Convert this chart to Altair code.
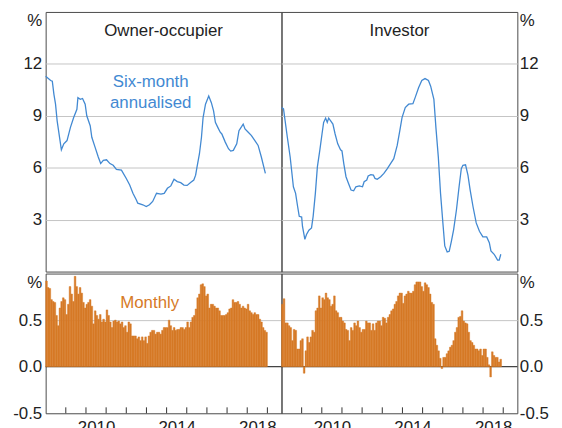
import altair as alt
import pandas as pd

FONT = "Liberation Sans"
BLUE = "#4289D2"
ORANGE = "#D67A27"
X_DOMAIN = [2008, 2019.7]
START_YEAR = 2008

# ---- data ----
owner_line_dates = [2008.00, 2008.25, 2008.33, 2008.41, 2008.49, 2008.57, 2008.78, 2008.90, 2009.06, 2009.23,
                    2009.39, 2009.55, 2009.60, 2009.72, 2009.83, 2009.96, 2010.04, 2010.21, 2010.29, 2010.45,
                    2010.61, 2010.73, 2010.86, 2011.02, 2011.19, 2011.35, 2011.51, 2011.76, 2012.00, 2012.17,
                    2012.33, 2012.50, 2012.57, 2012.82, 2012.99, 2013.15, 2013.31, 2013.50, 2013.72, 2013.88,
                    2014.04, 2014.21, 2014.37, 2014.53, 2014.70, 2014.86, 2015.02, 2015.19, 2015.35, 2015.44,
                    2015.51, 2015.63, 2015.73, 2015.81, 2015.93, 2016.09, 2016.22, 2016.33, 2016.42, 2016.54,
                    2016.66, 2016.74, 2016.91, 2017.07, 2017.18, 2017.31, 2017.48, 2017.59, 2017.72, 2017.80,
                    2017.89, 2018.05, 2018.21, 2018.38, 2018.54, 2018.70, 2018.90]
owner_line_values = [11.29, 11.04, 11.0, 10.24, 9.67, 8.71, 7.04, 7.38, 7.57, 8.33,
                     8.9, 9.38, 10.05, 9.95, 10.0, 9.67, 9.0, 8.43, 7.76, 7.19,
                     6.62, 6.24, 6.43, 6.46, 6.24, 6.14, 5.9, 5.86, 5.38, 5.0,
                     4.52, 4.14, 3.95, 3.86, 3.76, 3.86, 4.05, 4.52, 4.47, 4.52,
                     4.81, 4.95, 5.33, 5.2, 5.14, 5.0, 4.98, 5.14, 5.29, 5.57,
                     6.05, 6.81, 7.76, 8.9, 9.67, 10.14, 9.76, 9.29, 8.62, 8.33,
                     8.05, 7.95, 7.48, 7.1, 6.96, 7.0, 7.38, 8.14, 8.37, 8.52,
                     8.24, 8.05, 7.86, 7.57, 7.29, 6.62, 5.67]

investor_line_dates = [2008.01, 2008.10, 2008.18, 2008.29, 2008.43, 2008.59, 2008.70, 2008.80, 2008.88, 2009.00,
                       2009.04, 2009.16, 2009.24, 2009.36, 2009.49, 2009.57, 2009.68, 2009.78, 2009.90, 2010.01,
                       2010.09, 2010.19, 2010.27, 2010.34, 2010.44, 2010.55, 2010.66, 2010.79, 2010.93, 2011.00,
                       2011.09, 2011.20, 2011.32, 2011.45, 2011.58, 2011.69, 2011.86, 2012.02, 2012.10, 2012.23,
                       2012.30, 2012.43, 2012.56, 2012.64, 2012.75, 2012.92, 2013.08, 2013.25, 2013.41, 2013.57,
                       2013.74, 2013.87, 2013.98, 2014.14, 2014.31, 2014.52, 2014.63, 2014.80, 2014.96, 2015.12,
                       2015.29, 2015.40, 2015.56, 2015.66, 2015.78, 2015.89, 2016.02, 2016.10, 2016.22, 2016.32,
                       2016.43, 2016.54, 2016.68, 2016.81, 2016.92, 2017.00, 2017.13, 2017.25, 2017.36, 2017.50,
                       2017.66, 2017.82, 2017.99, 2018.18, 2018.31, 2018.39, 2018.55, 2018.72, 2018.80, 2018.88]
investor_line_values = [9.48, 9.4, 8.71, 7.76, 6.62, 4.9, 4.52, 3.76, 3.19, 3.15,
                        2.62, 1.86, 2.14, 2.39, 2.52, 3.19, 4.52, 6.05, 7.0, 7.95,
                        8.62, 8.87, 8.62, 8.87, 8.71, 8.52, 7.95, 7.38, 7.04, 6.97,
                        6.24, 5.48, 5.1, 4.71, 4.67, 4.9, 4.95, 4.9, 5.19, 5.29,
                        5.52, 5.6, 5.57, 5.38, 5.33, 5.48, 5.67, 5.95, 6.24, 6.52,
                        7.29, 8.14, 8.9, 9.48, 9.67, 9.7, 10.05, 10.62, 11.04, 11.15,
                        11.04, 10.71, 9.95, 8.33, 6.62, 4.52, 2.62, 1.48, 1.13, 1.17,
                        1.76, 2.43, 3.57, 4.9, 5.95, 6.14, 6.17, 5.57, 4.71, 3.76,
                        2.81, 2.33, 2.01, 2.0, 1.67, 1.19, 1.0, 0.66, 0.66, 1.0]

owner_monthly = [0.92, 0.85, 0.84, 0.72, 0.70, 0.69, 0.55, 0.44, 0.63, 0.70,
                 0.74, 0.72, 0.56, 0.67, 0.86, 0.78, 0.70, 0.97, 0.86, 0.78,
                 0.85, 0.79, 0.69, 0.63, 0.67, 0.69, 0.72, 0.65, 0.46, 0.60,
                 0.55, 0.51, 0.56, 0.48, 0.51, 0.48, 0.61, 0.55, 0.48, 0.42,
                 0.49, 0.50, 0.48, 0.49, 0.46, 0.48, 0.42, 0.44, 0.37, 0.48,
                 0.46, 0.33, 0.33, 0.33, 0.30, 0.32, 0.28, 0.32, 0.28, 0.32,
                 0.25, 0.33, 0.37, 0.39, 0.39, 0.35, 0.37, 0.37, 0.35, 0.39,
                 0.42, 0.42, 0.42, 0.50, 0.44, 0.39, 0.42, 0.39, 0.40, 0.40,
                 0.42, 0.42, 0.40, 0.42, 0.48, 0.42, 0.48, 0.53, 0.55, 0.62,
                 0.74, 0.78, 0.88, 0.89, 0.86, 0.76, 0.78, 0.63, 0.67, 0.67,
                 0.65, 0.63, 0.63, 0.60, 0.55, 0.55, 0.55, 0.56, 0.58, 0.62,
                 0.63, 0.72, 0.69, 0.69, 0.70, 0.67, 0.63, 0.65, 0.63, 0.62,
                 0.67, 0.60, 0.58, 0.56, 0.58, 0.56, 0.56, 0.51, 0.48, 0.42,
                 0.39, 0.37]

investor_monthly = [0.67, 0.73, 0.47, 0.47, 0.44, 0.42, 0.28, 0.40, 0.39, 0.19,
                    0.19, 0.28, 0.30, -0.07, 0.17, 0.32, 0.26, 0.32, 0.39, 0.37,
                    0.60, 0.63, 0.76, 0.63, 0.74, 0.72, 0.79, 0.74, 0.72, 0.65,
                    0.67, 0.76, 0.60, 0.58, 0.53, 0.53, 0.49, 0.47, 0.40, 0.39,
                    0.28, 0.42, 0.39, 0.47, 0.44, 0.49, 0.42, 0.37, 0.40, 0.40,
                    0.49, 0.47, 0.47, 0.39, 0.46, 0.39, 0.47, 0.49, 0.49, 0.44,
                    0.53, 0.52, 0.47, 0.53, 0.56, 0.60, 0.62, 0.67, 0.70, 0.76,
                    0.79, 0.79, 0.68, 0.76, 0.78, 0.81, 0.79, 0.79, 0.81, 0.88,
                    0.91, 0.91, 0.91, 0.86, 0.81, 0.90, 0.88, 0.85, 0.78, 0.69,
                    0.67, 0.30, 0.23, 0.17, 0.09, -0.02, 0.10, 0.10, 0.14, 0.17,
                    0.21, 0.23, 0.28, 0.37, 0.42, 0.53, 0.54, 0.60, 0.49, 0.47,
                    0.46, 0.37, 0.28, 0.26, 0.23, 0.19, 0.19, 0.17, 0.19, 0.12,
                    0.19, 0.19, 0.10, 0.02, -0.11, 0.16, 0.12, 0.10, 0.10, 0.05,
                    0.08]

tick_years = list(range(2009, 2020))
label_years = [2010, 2014, 2018]
top_ticks = [3, 6, 9, 12]
bottom_ticks = [-0.5, 0.0, 0.5]
panel_titles = ["Owner-occupier", "Investor"]
chart_title = "Housing Credit Growth"

W = 238
H_TOP = 262
H_BOT = 141


def xscale():
    return alt.Scale(domain=X_DOMAIN, nice=False, zero=False)


def x_axis(show):
    if not show:
        return None
    return alt.Axis(values=[y + 0.5 for y in label_years], labelExpr="'' + floor(datum.value)",
                    tickSize=0, domain=False, grid=False, labelPadding=6, title=None,
                    labelFontSize=17, labelFont=FONT, labelColor="#222")


def top_axis(orient):
    return alt.Axis(orient=orient, values=top_ticks + [14.5], format="d",
                    labelExpr="datum.value > 13 ? '%' : datum.label",
                    tickSize=0, domain=False, labelPadding=4 if orient == "left" else 2,
                    grid=True, gridColor="#c4c4c4",
                    gridOpacity={"condition": {"test": "datum.value > 13", "value": 0}, "value": 1},
                    title=None, labelFontSize=17, labelFont=FONT, labelColor="#222")


def bottom_axis(orient):
    return alt.Axis(orient=orient, values=bottom_ticks + [0.9],
                    labelExpr="datum.value > 0.8 ? '%' : (datum.value < 0 ? '-' : '') + format(abs(datum.value), '.1f')",
                    tickSize=0, domain=False, labelPadding=4 if orient == "left" else 2,
                    grid=True, gridColor="#c4c4c4",
                    gridOpacity={"condition": {"test": "datum.value == 0.5", "value": 1}, "value": 0},
                    title=None, labelFontSize=17, labelFont=FONT, labelColor="#222")


def label_text(text, x, y, color="#222", line_height=21):
    return alt.Chart(pd.DataFrame({"t": [text]})).mark_text(
        font=FONT, fontSize=17, color=color, align="center", baseline="alphabetic",
        lineBreak="\n", lineHeight=line_height
    ).encode(text="t:N", x=alt.value(x), y=alt.value(y))


def top_panel(dates, values, title, orient, extra=None):
    df = pd.DataFrame({"date": dates, "value": values})
    line = alt.Chart(df).mark_line(color=BLUE, strokeWidth=1.3).encode(
        x=alt.X("date:Q", scale=xscale(), axis=None),
        y=alt.Y("value:Q", scale=alt.Scale(domain=[0, 15], nice=False, zero=False), axis=top_axis(orient)),
    )
    layers = [line, label_text(title, W / 2, 24)]
    if extra is not None:
        layers.append(extra)
    return alt.layer(*layers).properties(width=W, height=H_TOP)


def bottom_panel(values, orient, extra=None):
    df = pd.DataFrame({
        "date": [START_YEAR + i / 12 for i in range(len(values))],
        "end": [START_YEAR + (i + 1) / 12 for i in range(len(values))],
        "value": values,
    })
    yscale = alt.Scale(domain=[-0.5, 1.0], nice=False, zero=False)
    ax = bottom_axis(orient)
    zero = alt.Chart(pd.DataFrame({"z": [0]})).mark_rule(color="#111", strokeWidth=1).encode(
        y=alt.Y("z:Q", scale=yscale, axis=ax)
    )
    bars = alt.Chart(df).mark_rect(color=ORANGE, stroke=ORANGE, strokeWidth=0.45).encode(
        x=alt.X("date:Q", scale=xscale(), axis=x_axis(True)),
        x2="end:Q",
        y=alt.Y("value:Q", scale=yscale, axis=ax),
        y2=alt.datum(0),
    )
    ticks = alt.Chart(pd.DataFrame({"date": tick_years})).mark_rule(color="#333", strokeWidth=1).encode(
        x=alt.X("date:Q", scale=xscale(), axis=x_axis(True)),
        y=alt.value(H_BOT - 6),
        y2=alt.value(H_BOT),
    )
    layers = [zero, bars, ticks]
    if extra is not None:
        layers.append(extra)
    return alt.layer(*layers).properties(width=W, height=H_BOT)


tl = top_panel(owner_line_dates, owner_line_values, panel_titles[0], "left",
               extra=label_text("Six-month\nannualised", 106, 76, color=BLUE))
tr = top_panel(investor_line_dates, investor_line_values, panel_titles[1], "right")
bl = bottom_panel(owner_monthly, "left", extra=label_text("Monthly", 105, 35, color=ORANGE))
br = bottom_panel(investor_monthly, "right")

top_row = alt.hconcat(tl, tr, spacing=0, bounds="flush").resolve_scale(x="independent", y="independent")
bottom_row = alt.hconcat(bl, br, spacing=0, bounds="flush").resolve_scale(x="independent", y="independent")

chart = alt.vconcat(top_row, bottom_row, spacing=0).resolve_scale(
    x="independent", y="independent"
).properties(
    title=alt.TitleParams(text=chart_title, fontSize=24, fontWeight="bold", font=FONT,
                          anchor="middle", offset=4, color="#000"),
    padding={"left": 4, "top": -27, "right": 5, "bottom": 5},
    background="white",
).configure_view(stroke="#4a4a4a", strokeWidth=1)

chart.save("out.html", embed_options={"renderer": "svg", "actions": False})
